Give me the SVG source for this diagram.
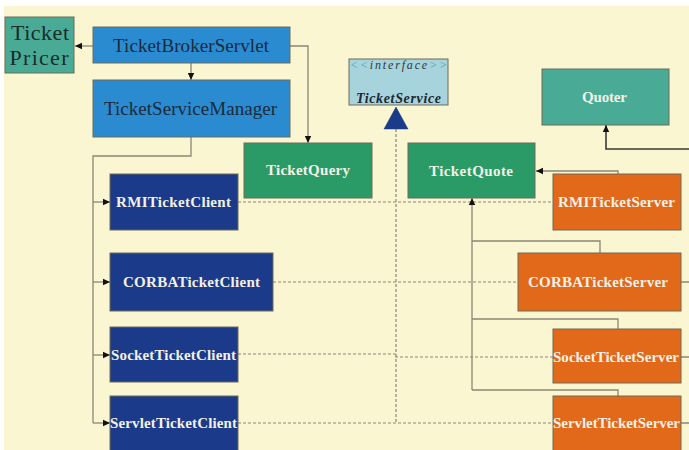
<svg xmlns="http://www.w3.org/2000/svg" width="689" height="450" viewBox="0 0 689 450">
<style>
.box{stroke:#6e6a58;stroke-width:1}
.teal{fill:#49ab96}
.blue{fill:#2a8bd1}
.green{fill:#2a9a67}
.navy{fill:#1b3a89}
.orange{fill:#e2691a}
.iface{fill:#a7d3dc}
.lbl{font-family:"Liberation Serif",serif;font-weight:bold;font-size:15px;fill:#f3f0e6;text-anchor:middle}
.dark{font-family:"Liberation Serif",serif;font-size:19px;fill:#1c2a3c;text-anchor:middle}
.c{fill:none;stroke:#8c8676;stroke-width:1.3}
.d{fill:none;stroke:#8c8676;stroke-width:1.2;stroke-dasharray:3,2}
</style>
<defs>
<marker id="ah" markerUnits="userSpaceOnUse" markerWidth="8" markerHeight="8" refX="7" refY="4" orient="auto">
<path d="M0,0.8 L7,4 L0,7.2 Z" fill="#111"/>
</marker>
</defs>
<rect x="0" y="0" width="689" height="450" fill="#ffffff"/>
<rect x="4" y="6" width="685" height="444" fill="#fbf6d2"/>

<g id="connectors">
<line class="c" x1="93" y1="46" x2="75" y2="46" marker-end="url(#ah)"/>
<line class="c" x1="191" y1="63" x2="191" y2="80" marker-end="url(#ah)"/>
<path class="c" d="M290,46 H308 V143" marker-end="url(#ah)"/>
<path class="c" d="M191,137 V156 H93 V423"/>
<line class="c" x1="93" y1="202" x2="110" y2="202" marker-end="url(#ah)"/>
<line class="c" x1="93" y1="282" x2="110" y2="282" marker-end="url(#ah)"/>
<line class="c" x1="93" y1="355" x2="110" y2="355" marker-end="url(#ah)"/>
<line class="c" x1="93" y1="423" x2="110" y2="423" marker-end="url(#ah)"/>
<path class="d" d="M396,129 V423"/>
<path class="d" d="M238,202 H553"/>
<path class="d" d="M273,282 H518"/>
<path class="d" d="M238,354 H396 V357 H553"/>
<path class="d" d="M238,423 H553"/>
<polygon points="396,107 408,129 384,129" fill="#1b3a89" stroke="#1b3a89" stroke-width="0.5"/>
<path class="c" d="M618,174 V171 H536" marker-end="url(#ah)"/>
<path class="c" d="M472,390 V198" marker-end="url(#ah)"/>
<path class="c" d="M472,241 H600 V253"/>
<path class="c" d="M472,319 H618 V329"/>
<path class="c" d="M472,390 H618 V396"/>
<path class="c" d="M681,282 H689 M681,357 H689 M681,423 H689"/>
<path d="M689,149 H606 V125" fill="none" stroke="#3a3a34" stroke-width="1.6" marker-end="url(#ah)"/>
</g>

<g id="TicketPricer">
<rect class="box teal" x="5" y="17" width="69" height="56"/>
<text x="40" y="40" font-family="Liberation Serif,serif" font-size="22" fill="#1c2a2a" text-anchor="middle" textLength="58" lengthAdjust="spacing">Ticket</text>
<text x="39" y="65" font-family="Liberation Serif,serif" font-size="22" fill="#1c2a2a" text-anchor="middle" textLength="59" lengthAdjust="spacing">Pricer</text>
</g>

<g id="TicketBrokerServlet">
<rect class="box blue" x="93" y="27" width="197" height="36"/>
<text class="dark" x="191" y="52" textLength="156" lengthAdjust="spacing">TicketBrokerServlet</text>
</g>

<g id="TicketServiceManager">
<rect class="box blue" x="93" y="80" width="197" height="57"/>
<text class="dark" x="190.5" y="115" textLength="173" lengthAdjust="spacing">TicketServiceManager</text>
</g>

<g id="TicketService">
<rect class="box iface" x="349" y="59" width="99" height="46"/>
<text x="398.5" y="69" font-family="Liberation Serif,serif" font-style="italic" font-size="12" text-anchor="middle" textLength="97" lengthAdjust="spacing"><tspan fill="#3c9fb0">&lt;&lt;</tspan><tspan fill="#2c3a40">interface</tspan><tspan fill="#3c9fb0">&gt;&gt;</tspan></text>
<text x="398.5" y="103" font-family="Liberation Serif,serif" font-style="italic" font-weight="bold" font-size="14" fill="#1c2a32" text-anchor="middle" textLength="85" lengthAdjust="spacing">TicketService</text>
</g>

<g id="Quoter">
<rect class="box teal" x="542" y="69" width="127" height="56"/>
<text class="lbl" x="604.5" y="102" textLength="45" lengthAdjust="spacing">Quoter</text>
</g>

<g id="TicketQuery">
<rect class="box green" x="244" y="143" width="128" height="55"/>
<text class="lbl" x="308" y="175" textLength="84" lengthAdjust="spacing">TicketQuery</text>
</g>

<g id="TicketQuote">
<rect class="box green" x="408" y="143" width="127" height="55"/>
<text class="lbl" x="471" y="176" textLength="84" lengthAdjust="spacing">TicketQuote</text>
</g>

<g id="RMITicketClient">
<rect class="box navy" x="110" y="174" width="128" height="56"/>
<text class="lbl" x="173.5" y="207" textLength="115" lengthAdjust="spacing">RMITicketClient</text>
</g>

<g id="CORBATicketClient">
<rect class="box navy" x="110" y="253" width="163" height="58"/>
<text class="lbl" x="191.5" y="287" textLength="137" lengthAdjust="spacing">CORBATicketClient</text>
</g>

<g id="SocketTicketClient">
<rect class="box navy" x="110" y="327" width="128" height="55"/>
<text class="lbl" x="173.5" y="360" textLength="125" lengthAdjust="spacing">SocketTicketClient</text>
</g>

<g id="ServletTicketClient">
<rect class="box navy" x="110" y="396" width="128" height="60"/>
<text class="lbl" x="173.5" y="428" textLength="127" lengthAdjust="spacing">ServletTicketClient</text>
</g>

<g id="RMITicketServer">
<rect class="box orange" x="553" y="174" width="128" height="56"/>
<text class="lbl" x="616.5" y="207" textLength="117" lengthAdjust="spacing">RMITicketServer</text>
</g>

<g id="CORBATicketServer">
<rect class="box orange" x="518" y="253" width="163" height="58"/>
<text class="lbl" x="598" y="287" textLength="140" lengthAdjust="spacing">CORBATicketServer</text>
</g>

<g id="SocketTicketServer">
<rect class="box orange" x="553" y="329" width="128" height="54"/>
<text class="lbl" x="616" y="362" textLength="126" lengthAdjust="spacing">SocketTicketServer</text>
</g>

<g id="ServletTicketServer">
<rect class="box orange" x="553" y="396" width="128" height="60"/>
<text class="lbl" x="616.5" y="428" textLength="127" lengthAdjust="spacing">ServletTicketServer</text>
</g>
</svg>
